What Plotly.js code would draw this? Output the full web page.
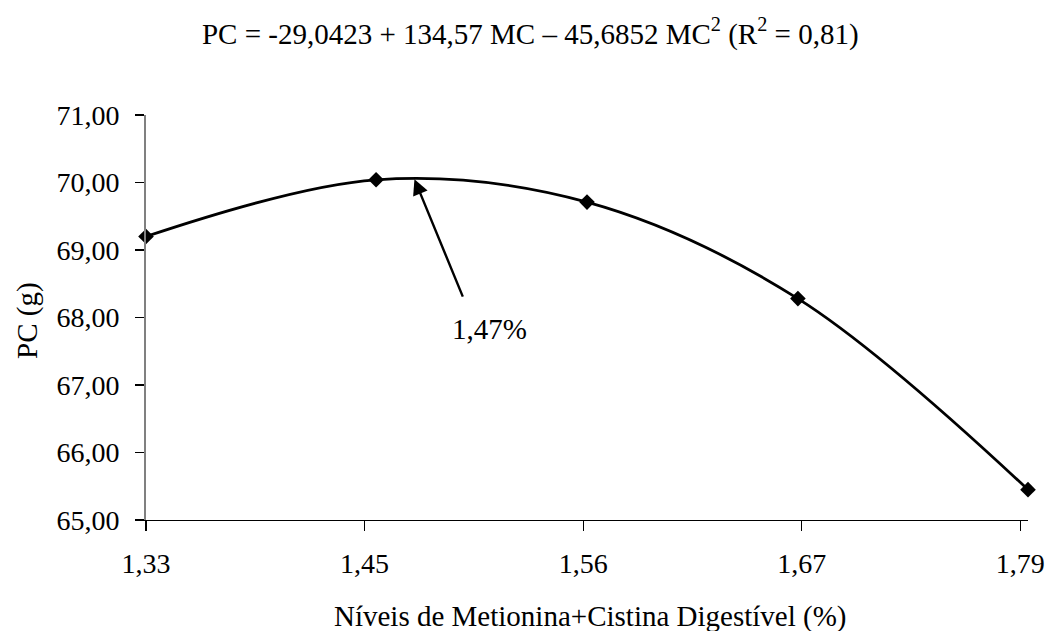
<!DOCTYPE html>
<html>
<head>
<meta charset="utf-8">
<script src="https://cdn.plot.ly/plotly-3.0.1.min.js"></script>
<style>
  html, body { margin: 0; padding: 0; background: #ffffff; }
  #chart { width: 1048px; height: 631px; }
</style>
</head>
<body>
<div id="chart"></div>
<script>
// Levels of digestible methionine + cystine (%) and body weight PC (g)
const levels = [1.33, 1.45, 1.56, 1.67, 1.79];
const pcValues = [69.20, 70.04, 69.71, 68.28, 65.45];

// Axis tick labels
const xTickLabels = ['1,33', '1,45', '1,56', '1,67', '1,79'];
const xTickValues = [1.33, 1.444, 1.558, 1.672, 1.786];
const yTickValues = [65, 66, 67, 68, 69, 70, 71];
const yTickLabels = ['65,00', '66,00', '67,00', '68,00', '69,00', '70,00', '71,00'];

// Optimum level from the fitted quadratic
const optimumLevel = 1.47;
const optimumPC = 70.05;

const equationText = 'PC = -29,0423 + 134,57 MC \u2013 45,6852 MC<sup>2</sup> (R<sup>2</sup> = 0,81)';
const xTitle = 'N\u00edveis de Metionina+Cistina Digest\u00edvel (%)';
const yTitle = 'PC (g)';
const optimumLabel = '1,47%';

const serif = 'Liberation Serif';

const trace = {
  x: levels,
  y: pcValues,
  type: 'scatter',
  mode: 'lines+markers',
  line: { color: '#000000', width: 2.8, shape: 'spline', smoothing: 1 },
  marker: { symbol: 'diamond', size: 12, color: '#000000' },
  cliponaxis: false,
  hoverinfo: 'x+y',
  showlegend: false
};

const layout = {
  width: 1048,
  height: 631,
  paper_bgcolor: '#ffffff',
  plot_bgcolor: '#ffffff',
  margin: { l: 146, r: 20, t: 115, b: 111 },
  font: { family: serif, color: '#000000', size: 28 },
  title: {
    text: equationText,
    font: { family: serif, size: 29, color: '#000000' },
    xref: 'container', yref: 'container',
    x: 0.506, y: 0.947, xanchor: 'center', yanchor: 'middle'
  },
  xaxis: {
    range: [1.33, 1.79],
    tickmode: 'array',
    tickvals: xTickValues,
    ticktext: xTickLabels,
    ticks: 'outside', ticklen: 10, tickwidth: 1.3, tickcolor: '#000000',
    showline: true, linecolor: '#000000', linewidth: 1.3,
    showgrid: false, zeroline: false,
    tickfont: { family: serif, size: 28, color: '#000000' },
    ticklabelstandoff: 8
  },
  yaxis: {
    range: [65, 71],
    tickmode: 'array',
    tickvals: yTickValues,
    ticktext: yTickLabels,
    ticks: 'outside', ticklen: 9, tickwidth: 1.3, tickcolor: '#000000',
    showline: true, linecolor: '#808080', linewidth: 2,
    showgrid: false, zeroline: false,
    tickfont: { family: serif, size: 28, color: '#000000' },
    ticklabelstandoff: 10
  },
  annotations: [
    {
      // arrow pointing at the maximum of the fitted curve
      x: optimumLevel, y: optimumPC, xref: 'x', yref: 'y',
      text: '', showarrow: true,
      ax: 49, ay: 119,
      arrowhead: 2, arrowsize: 1.3, arrowwidth: 2.4, arrowcolor: '#000000'
    },
    {
      x: 0, y: 0, xref: 'paper', yref: 'paper',
      xanchor: 'center', yanchor: 'middle',
      text: optimumLabel, showarrow: false,
      font: { family: serif, size: 29, color: '#000000' }
    },
    {
      x: 0, y: 0, xref: 'paper', yref: 'paper',
      xanchor: 'center', yanchor: 'middle',
      text: xTitle, showarrow: false,
      font: { family: serif, size: 29, color: '#000000' }
    },
    {
      x: 0, y: 0, xref: 'paper', yref: 'paper',
      xanchor: 'center', yanchor: 'middle',
      text: yTitle, showarrow: false, textangle: -90,
      font: { family: serif, size: 29, color: '#000000' }
    }
  ]
};

// Convert pixel placements of free text into paper coordinates
const plotW = layout.width - layout.margin.l - layout.margin.r;
const plotH = layout.height - layout.margin.t - layout.margin.b;
function px2paperX(px) { return (px - layout.margin.l) / plotW; }
function px2paperY(py) { return (layout.height - layout.margin.b - py) / plotH; }

layout.annotations[1].x = px2paperX(489);
layout.annotations[1].y = px2paperY(329);
layout.annotations[2].x = px2paperX(590);
layout.annotations[2].y = px2paperY(616);
layout.annotations[3].x = px2paperX(27);
layout.annotations[3].y = px2paperY(321);

Plotly.newPlot('chart', [trace], layout, { displayModeBar: false, staticPlot: true });
</script>
</body>
</html>
